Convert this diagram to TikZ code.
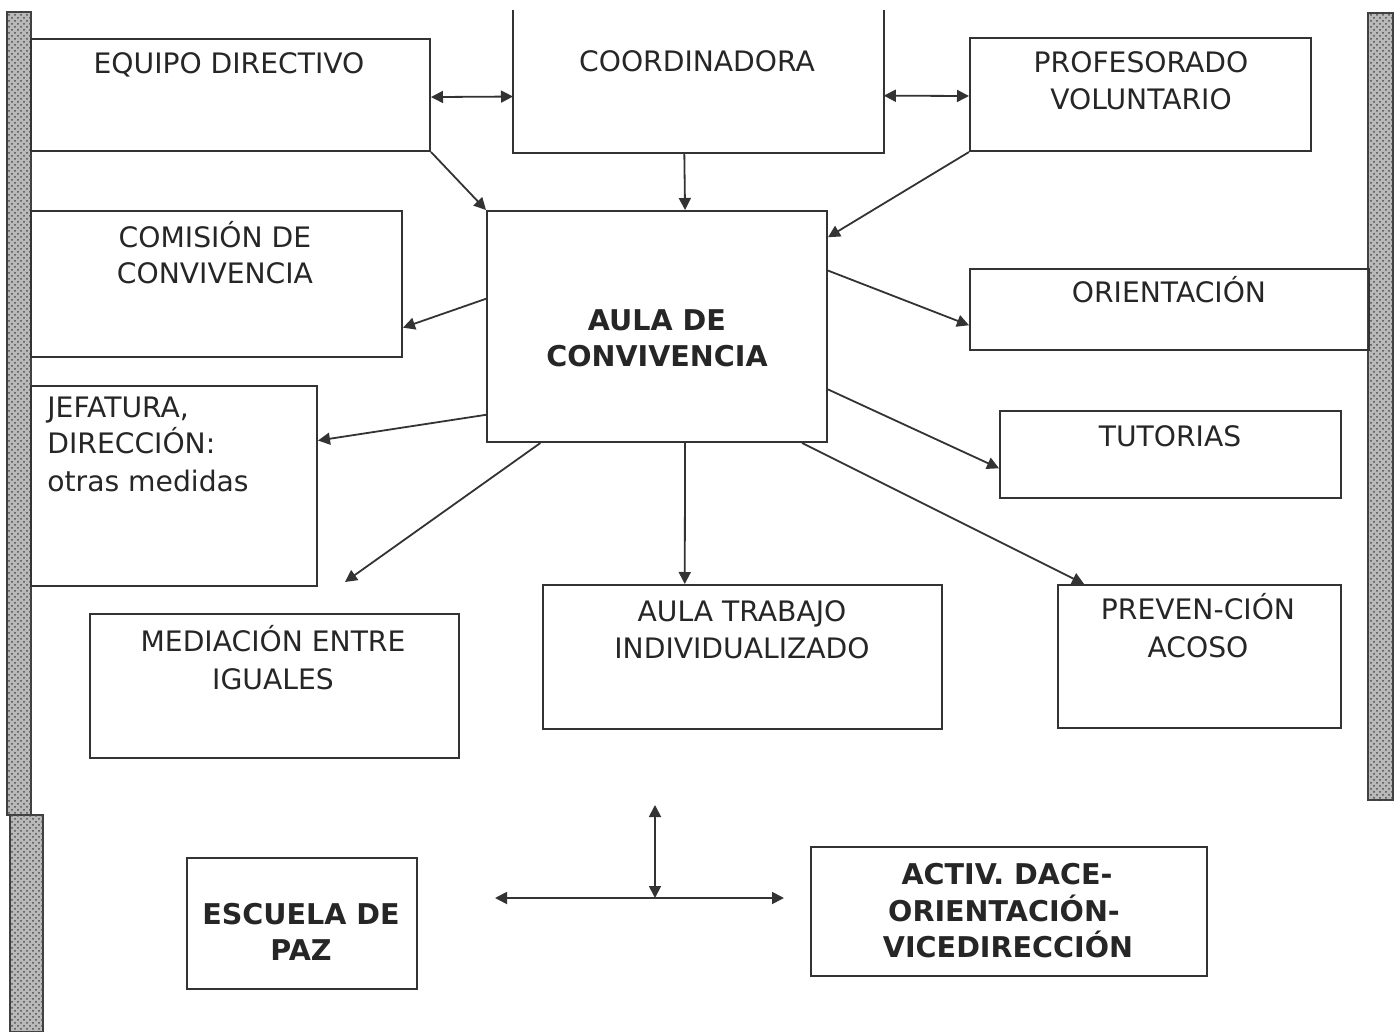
\documentclass[tikz,border=0pt]{standalone}
\usepackage{fontspec}
\setmainfont{DejaVu Sans}
\usetikzlibrary{arrows.meta,calc,patterns}
\begin{document}
\begin{tikzpicture}[x=0.5pt,y=-0.5pt,
  box/.style={draw=black!80,line width=1pt,rectangle,inner sep=0pt,anchor=north west},
  txt/.style={inner sep=0pt,anchor=base,font=\fontsize{14.1}{18}\selectfont,text=black!85},
  btxt/.style={txt,font=\fontsize{14.3}{18}\selectfont\bfseries},
  tip/.tip={Triangle[length=6pt,width=6pt]},
  conn/.style={draw=black!80,line width=0.9pt,-tip},
  dconn/.style={draw=black!80,line width=0.9pt,tip-tip},
  stripe/.style={fill=gray!55,draw=black!75,line width=0.6pt,postaction={pattern=crosshatch dots,pattern color=black!70}}
]
\useasboundingbox (0,0) rectangle (1399,1032);
% side stripes
\fill[stripe] (7,12) rectangle (31,815);
\fill[stripe] (10,815) rectangle (43,1032);
\fill[stripe] (1368,13) rectangle (1393,800);

% boxes
\node[box,minimum width=399pt*0.5,minimum height=112pt*0.5] (equipo) at (30,38) {};
\node[inner sep=0pt,anchor=north west,minimum width=370pt*0.5,minimum height=142pt*0.5] (coord) at (513,10) {};
\draw[black!80,line width=1pt] (coord.north west) -- (coord.south west) -- (coord.south east) -- (coord.north east);
\node[box,minimum width=341pt*0.5,minimum height=113pt*0.5] (prof) at (969,37) {};
\node[box,minimum width=371pt*0.5,minimum height=146pt*0.5] (comision) at (30,210) {};
\node[box,minimum width=340pt*0.5,minimum height=231pt*0.5] (aula) at (486,210) {};
\node[box,minimum width=399pt*0.5,minimum height=81pt*0.5] (orient) at (969,268) {};
\node[box,minimum width=286pt*0.5,minimum height=200pt*0.5] (jef) at (30,385) {};
\node[box,minimum width=341pt*0.5,minimum height=87pt*0.5] (tutor) at (999,410) {};
\node[box,minimum width=369pt*0.5,minimum height=144pt*0.5] (media) at (89,613) {};
\node[box,minimum width=399pt*0.5,minimum height=144pt*0.5] (trabajo) at (542,584) {};
\node[box,minimum width=283pt*0.5,minimum height=143pt*0.5] (preven) at (1057,584) {};
\node[box,minimum width=230pt*0.5,minimum height=131pt*0.5] (escuela) at (186,857) {};
\node[box,minimum width=396pt*0.5,minimum height=129pt*0.5] (activ) at (810,846) {};

% texts
\node[txt] (equipo1) at (229,74) {EQUIPO DIRECTIVO};
\node[txt] (coord1) at (697,72) {COORDINADORA};
\node[txt] (prof1) at (1141,73) {PROFESORADO};
\node[txt] (prof2) at (1141,110) {VOLUNTARIO};
\node[txt] (com1) at (215,248) {COMISIÓN DE};
\node[txt] (com2) at (215,284) {CONVIVENCIA};
\node[btxt] (aula1) at (657,331) {AULA DE};
\node[btxt] (aula2) at (657,367) {CONVIVENCIA};
\node[txt] (orient1) at (1169,303) {ORIENTACIÓN};
\node[txt,anchor=base west] (jef1) at (47,418) {JEFATURA,};
\node[txt,anchor=base west] (jef2) at (47,454) {DIRECCIÓN:};
\node[txt,anchor=base west] (jef3) at (47,492) {otras medidas};
\node[txt] (tutor1) at (1170,447) {TUTORIAS};
\node[txt] (media1) at (273,651) {MEDIACIÓN ENTRE};
\node[txt] (media2) at (273,689) {IGUALES};
\node[txt] (trab1) at (742,621) {AULA TRABAJO};
\node[txt] (trab2) at (742,658) {INDIVIDUALIZADO};
\node[txt] (prev1) at (1198,619) {PREVEN-CIÓN};
\node[txt] (prev2) at (1198,657) {ACOSO};
\node[btxt] (esc1) at (301,924) {ESCUELA DE};
\node[btxt] (esc2) at (301,960) {PAZ};
\node[btxt] (act1) at (1007,884) {ACTIV. DACE-};
\node[btxt] (act2) at (1004,921) {ORIENTACIÓN-};
\node[btxt] (act3) at (1008,957) {VICEDIRECCIÓN};

% connectors
\draw[dconn] ($(equipo.north east)!0.518!(equipo.south east)$) -- ($(coord.north west)!0.606!(coord.south west)$);
\draw[dconn] ($(coord.north east)!0.60!(coord.south east)$) -- ($(prof.north west)!0.513!(prof.south west)$);
\draw[conn] (equipo.south east) -- (aula.north west);
\draw[conn] ($(coord.south west)!0.462!(coord.south east)$) -- ($(aula.north west)!0.582!(aula.north east)$);
\draw[conn] (prof.south west) -- ($(aula.north east)!0.117!(aula.south east)$);
\draw[conn] ($(aula.north west)!0.381!(aula.south west)$) -- ($(comision.north east)!0.795!(comision.south east)$);
\draw[conn] ($(aula.north east)!0.26!(aula.south east)$) -- ($(orient.north west)!0.69!(orient.south west)$);
\draw[conn] ($(aula.north west)!0.879!(aula.south west)$) -- ($(jef.north east)!0.275!(jef.south east)$);
\draw[conn] ($(aula.north east)!0.77!(aula.south east)$) -- ($(tutor.north west)!0.655!(tutor.south west)$);
\coordinate (mfree) at (345,582);
\draw[conn] ($(aula.south west)!0.159!(aula.south east)$) -- (mfree);
\draw[conn] ($(aula.south west)!0.582!(aula.south east)$) -- ($(trabajo.north west)!0.356!(trabajo.north east)$);
\draw[conn] ($(aula.south west)!0.924!(aula.south east)$) -- ($(preven.north west)!0.095!(preven.north east)$);

% bottom arrows
\coordinate (hl) at (495,898);
\coordinate (hr) at (784,898);
\coordinate (vt) at (655,805);
\coordinate (vb) at (655,898);
\draw[dconn] (hl) -- (hr);
\draw[dconn] (vt) -- (vb);
\end{tikzpicture}
\end{document}
